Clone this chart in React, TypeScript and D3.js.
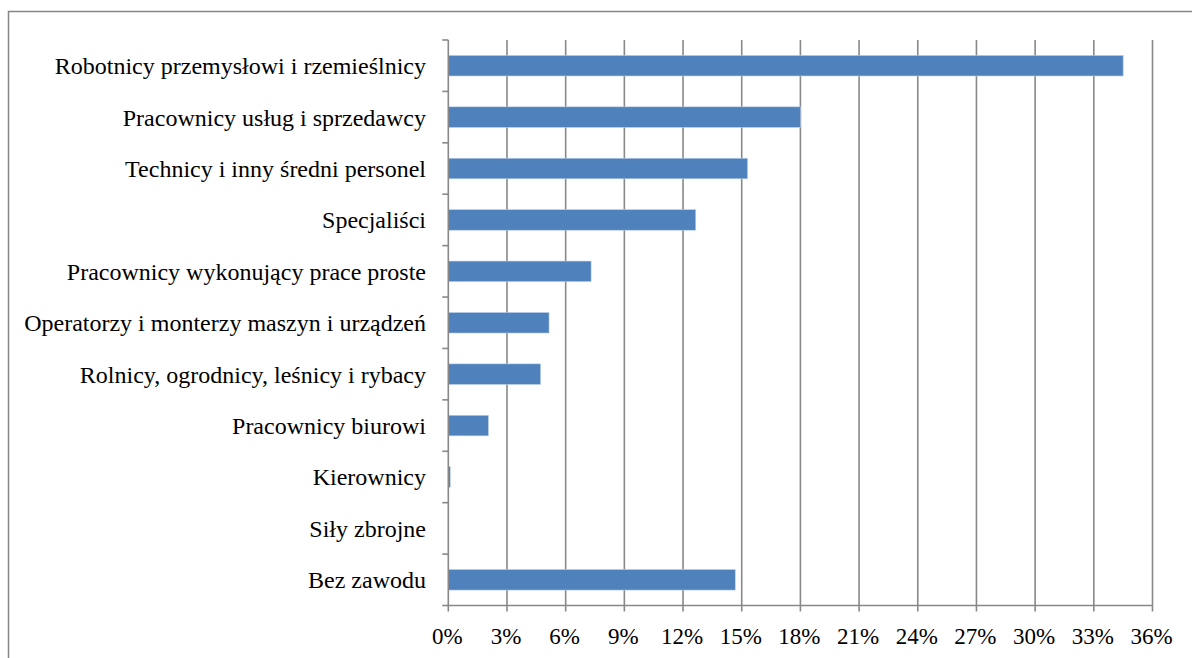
import React from "react";
import * as d3 from "d3";

const categories = [
  "Robotnicy przemysłowi i rzemieślnicy",
  "Pracownicy usług i sprzedawcy",
  "Technicy i inny średni personel",
  "Specjaliści",
  "Pracownicy wykonujący prace proste",
  "Operatorzy i monterzy maszyn i urządzeń",
  "Rolnicy, ogrodnicy, leśnicy i rybacy",
  "Pracownicy biurowi",
  "Kierownicy",
  "Siły zbrojne",
  "Bez zawodu",
];
const values = [34.5, 18.0, 15.3, 12.65, 7.3, 5.15, 4.72, 2.05, 0.1, 0, 14.67];
const xTicks = [0, 3, 6, 9, 12, 15, 18, 21, 24, 27, 30, 33, 36];

const W = 1192;
const H = 658;
const left = 448.3;
const right = 1152.5;
const top = 40;
const bottom = 605.5;

export default function App() {
  const x = d3.scaleLinear().domain([0, 36]).range([left, right]);
  const y = d3.scaleBand<string>().domain(categories).range([top, bottom]).paddingInner(0.6).paddingOuter(0.3);
  const yb = d3.scaleBand<string>().domain(categories).range([top, bottom]);
  const textStyle = { fontFamily: "Liberation Serif" };
  const gridColor = "#888888";
  return (
    <svg width={W} height={H} style={{ position: "absolute", left: 0, top: 0, display: "block" }}>
      <rect x={0} y={0} width={W} height={H} fill="#fff" />
      <rect x={8.5} y={11.5} width={1250} height={700} fill="none" stroke="#878787" strokeWidth={1.5} />
      {xTicks.slice(1).map((t) => (
        <line key={"g" + t} x1={x(t)} x2={x(t)} y1={top} y2={bottom} stroke={gridColor} strokeWidth={1.6} />
      ))}
      {categories.map((c, i) => (
        <rect
          key={"b" + c}
          x={x(0)}
          y={y(c)}
          width={Math.max(0, x(values[i]) - x(0))}
          height={y.bandwidth()}
          fill="#4F81BD"
          stroke={values[i] > 0 ? "#bcd0e8" : "none"}
          strokeWidth={0.6}
        />
      ))}
      <line x1={left} x2={left} y1={top} y2={bottom} stroke={gridColor} strokeWidth={1.6} />
      {categories.map((c) => (
        <line key={"ct" + c} x1={left - 6} x2={left} y1={yb(c)} y2={yb(c)} stroke={gridColor} strokeWidth={1.6} />
      ))}
      <line x1={left - 6} x2={left} y1={bottom} y2={bottom} stroke={gridColor} strokeWidth={1.6} />
      <line x1={left} x2={right} y1={bottom} y2={bottom} stroke={gridColor} strokeWidth={1.6} />
      {xTicks.map((t) => (
        <line key={"xt" + t} x1={x(t)} x2={x(t)} y1={bottom} y2={bottom + 6} stroke={gridColor} strokeWidth={1.6} />
      ))}
      {categories.map((c) => (
        <text
          key={"l" + c}
          x={426}
          y={(yb(c) as number) + yb.bandwidth() / 2 + 8.5}
          textAnchor="end"
          fontSize={24}
          fill="#000"
          style={textStyle}
        >
          {c}
        </text>
      ))}
      {xTicks.map((t) => (
        <text key={"xl" + t} x={x(t) - 1} y={643.5} textAnchor="middle" fontSize={23} fill="#000" style={textStyle}>
          {t + "%"}
        </text>
      ))}
    </svg>
  );
}
